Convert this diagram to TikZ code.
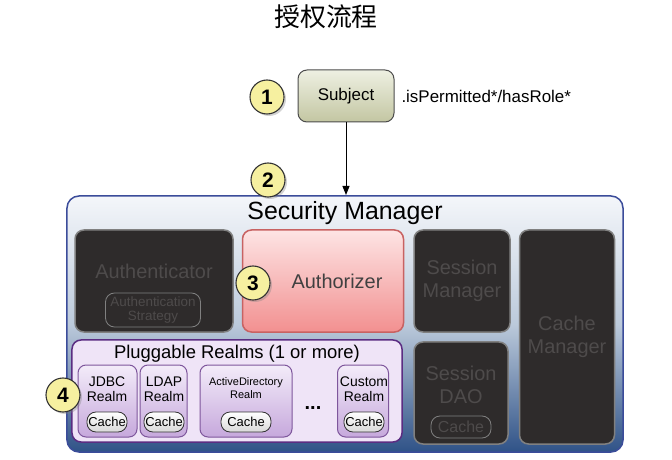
\documentclass[tikz,border=0pt]{standalone}
\usepackage{fontspec}
\setmainfont{Liberation Sans}
\newfontfamily\cjk{Noto Sans CJK SC}
\usetikzlibrary{shadows,arrows.meta}
\definecolor{darkbox}{HTML}{2E2B2B}
\definecolor{darktext}{HTML}{4E4B4B}
\definecolor{numfill}{HTML}{F6F0A0}
\definecolor{subjtop}{HTML}{EEF0E2}
\definecolor{subjbot}{HTML}{C3C6A2}
\definecolor{smtop}{HTML}{F4F6FA}
\definecolor{smmid}{HTML}{BCCADB}
\definecolor{smbot}{HTML}{2F5287}
\definecolor{smline}{HTML}{3B4C9A}
\definecolor{aztop}{HTML}{FDE4E4}
\definecolor{azbot}{HTML}{F29090}
\definecolor{azline}{HTML}{C86262}
\definecolor{rlfill}{HTML}{EFE4F7}
\definecolor{rlline}{HTML}{5B2D82}
\definecolor{rctop}{HTML}{F3ECF9}
\definecolor{rcbot}{HTML}{C6A8DC}
\definecolor{rcline}{HTML}{7E569C}
\tikzset{
  num/.style={circle,draw=black!80,line width=1.1bp,fill=numfill,minimum size=34bp,inner sep=0pt,
    font=\bfseries\fontsize{21}{22}\selectfont,drop shadow={opacity=0.35,shadow xshift=2bp,shadow yshift=-2bp}},
  darkb/.style={draw=black!50,line width=1.5bp,fill=darkbox,rounded corners=9bp,text=darktext,
    align=center,inner sep=0pt,font=\fontsize{20}{23}\selectfont},
  pill/.style={draw,rounded corners=9bp,inner sep=0pt,align=center},
  realm/.style={draw=rcline,line width=1bp,rounded corners=8bp,top color=rctop,
    bottom color=rcbot,inner sep=0pt},
  cachep/.style={pill,draw=black!80,line width=0.8bp,top color=white,bottom color=black!15,
    font=\fontsize{13}{14}\selectfont,minimum height=20bp},
  rtext/.style={align=center,font=\fontsize{14}{15}\selectfont,inner sep=0pt}
}
\begin{document}
\begin{tikzpicture}[x=1bp,y=-1bp]
\useasboundingbox (0,0) rectangle (672,460);
% title
\node (title) at (326,17) {\cjk\fontsize{26}{28}\selectfont 授权流程};
% subject
\node[draw=black!70,line width=1bp,rounded corners=9bp,top color=subjtop,bottom color=subjbot,
  minimum width=96bp,minimum height=52bp,font=\fontsize{17}{19}\selectfont] (subj) at (346,96) {Subject};
\node[anchor=west,font=\fontsize{17}{19}\selectfont] (perm) at (398,96) {.isPermitted*/hasRole*};
\node[num] (n1) at (267,97) {1};
% security manager
\node[draw=smline,line width=1.5bp,rounded corners=12bp,top color=smtop,
  bottom color=smbot,middle color=smmid,minimum width=556bp,minimum height=256bp] (sm) at (345,324) {};
\node[font=\fontsize{25}{27}\selectfont] (smt) at (345,213) {Security Manager};
\coordinate (smtopc) at (346,195);
\draw[-{Triangle[length=9bp,width=7bp]},line width=1bp] (subj.south) -- (smtopc);
\node[num] (n2) at (268,180) {2};
% authenticator
\node[darkb,minimum width=158bp,minimum height=102bp] (auth) at (154,281) {};
\node[text=darktext,font=\fontsize{20}{23}\selectfont] (autht) at (154,271) {Authenticator};
\node[pill,draw=black!50,line width=0.8bp,text=darktext,minimum width=95bp,minimum height=34bp,
  font=\fontsize{13.5}{14}\selectfont] (strat) at (153,310) {Authentication\\Strategy};
% authorizer
\node[draw=azline,line width=1.5bp,rounded corners=9bp,top color=aztop,bottom color=azbot,
  minimum width=161bp,minimum height=102bp,font=\fontsize{20}{23}\selectfont,text=black!75] (authz) at (323,281) {\hspace{28bp}Authorizer};
\node[num] (n3) at (253,283) {3};
% session manager
\node[darkb,minimum width=96bp,minimum height=102bp] (sessm) at (462,281) {Session\\Manager};
% cache manager
\node[darkb,minimum width=95bp,minimum height=214bp] (cachem) at (567,337) {Cache\\Manager};
% session DAO
\node[darkb,minimum width=94bp,minimum height=102bp] (sdao) at (461,393) {};
\node[text=darktext,align=center,font=\fontsize{20}{23}\selectfont] (sdaot) at (461,385) {Session\\DAO};
\node[pill,draw=black!50,line width=0.8bp,text=darktext,minimum width=60bp,minimum height=22bp,
  font=\fontsize{16}{17}\selectfont] (sdaoc) at (461,427) {Cache};
% pluggable realms
\node[draw=rlline,line width=1.5bp,rounded corners=9bp,fill=rlfill,
  minimum width=330bp,minimum height=102bp] (realms) at (237,391) {};
\node[font=\fontsize{18.5}{20}\selectfont] (realmst) at (237,354) {Pluggable Realms (1 or more)};
\node[realm,minimum width=59bp,minimum height=72bp] (jdbc) at (107.5,401) {};
\node[rtext] (jdbct) at (107,389) {JDBC\\Realm};
\node[cachep,minimum width=40bp] (jdbcc) at (107,422) {Cache};
\node[realm,minimum width=47bp,minimum height=72bp] (ldap) at (163.5,401) {};
\node[rtext] (ldapt) at (164,389) {LDAP\\Realm};
\node[cachep,minimum width=40bp] (ldapc) at (164,422) {Cache};
\node[realm,minimum width=92bp,minimum height=72bp] (ad) at (246,401) {};
\node[rtext,font=\fontsize{11}{13}\selectfont] (adt) at (246,388) {ActiveDirectory\\Realm};
\node[cachep,minimum width=50bp] (adc) at (246,422) {Cache};
\node[font=\bfseries\fontsize{20}{20}\selectfont] (dots) at (313,408) {...};
\node[realm,minimum width=51bp,minimum height=72bp] (cust) at (363,401) {};
\node[rtext] (custt) at (364,389) {Custom\\Realm};
\node[cachep,minimum width=40bp] (custc) at (364,422) {Cache};
\node[num] (n4) at (63,395) {4};
\end{tikzpicture}
\end{document}
